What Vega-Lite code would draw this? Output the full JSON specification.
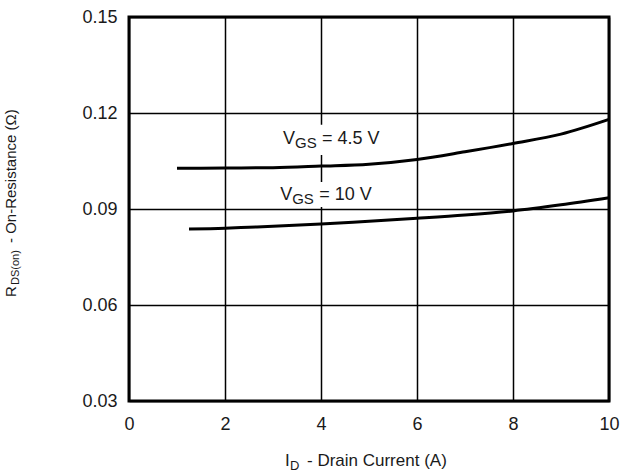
{
  "$schema": "https://vega.github.io/schema/vega-lite/v6.json",
  "width": 480,
  "height": 384,
  "autosize": {"type": "none"},
  "padding": {"left": 129, "top": 17, "right": 14, "bottom": 75},
  "background": "white",
  "config": {
    "font": "Liberation Sans",
    "view": {"stroke": "black", "strokeWidth": 3},
    "axis": {"domain": false, "ticks": false, "grid": true, "gridColor": "#000", "gridWidth": 1.5, "gridOpacity": 1, "labelFont": "Liberation Sans", "labelFontSize": 18, "labelColor": "#1a1a1a", "labelFlush": false, "labelOverlap": false, "title": null}
  },
  "datasets": {
    "curves": [
      {"id": 1.0, "r": 0.1027, "s": "4.5"},
      {"id": 2, "r": 0.1028, "s": "4.5"},
      {"id": 3, "r": 0.1029, "s": "4.5"},
      {"id": 4, "r": 0.1034, "s": "4.5"},
      {"id": 5, "r": 0.1040, "s": "4.5"},
      {"id": 6, "r": 0.1055, "s": "4.5"},
      {"id": 7, "r": 0.1079, "s": "4.5"},
      {"id": 8, "r": 0.1105, "s": "4.5"},
      {"id": 9, "r": 0.1134, "s": "4.5"},
      {"id": 10, "r": 0.1180, "s": "4.5"},
      {"id": 1.25, "r": 0.08375, "s": "10"},
      {"id": 2, "r": 0.0840, "s": "10"},
      {"id": 2.5, "r": 0.0843, "s": "10"},
      {"id": 3, "r": 0.0846, "s": "10"},
      {"id": 4, "r": 0.0853, "s": "10"},
      {"id": 5, "r": 0.0862, "s": "10"},
      {"id": 6, "r": 0.0871, "s": "10"},
      {"id": 7, "r": 0.0881, "s": "10"},
      {"id": 8, "r": 0.0894, "s": "10"},
      {"id": 9, "r": 0.0913, "s": "10"},
      {"id": 10, "r": 0.0935, "s": "10"}
    ],
    "boxes": [
      {"x": 3.12, "x2": 5.35, "y": 0.1069, "y2": 0.1163},
      {"x": 3.05, "x2": 5.25, "y": 0.0906, "y2": 0.0984}
    ],
    "labels": [
      {"x": 3.21, "y": 0.1120, "main": "V", "sub": "GS", "rest": "= 4.5 V"},
      {"x": 3.15, "y": 0.0945, "main": "V", "sub": "GS", "rest": "= 10 V"}
    ],
    "xtitle": [{"x": 3.25, "y": 0.01125, "main": "I", "sub": "D", "rest": "- Drain Current (A)"}],
    "ytitle": [{"x": -2.46, "y": 0.0625, "main": "R", "sub": "DS(on)", "rest": "- On-Resistance (Ω)"}]
  },
  "encoding": {
    "x": {"field": "x", "type": "quantitative", "scale": {"domain": [0, 10], "nice": false, "zero": false}, "axis": {"values": [0, 2, 4, 6, 8, 10], "labelPadding": 14}},
    "y": {"field": "y", "type": "quantitative", "scale": {"domain": [0.03, 0.15], "nice": false, "zero": false}, "axis": {"values": [0.03, 0.06, 0.09, 0.12, 0.15], "format": ".2f", "labelPadding": 12}}
  },
  "layer": [
    {
      "data": {"name": "boxes"},
      "mark": {"type": "rect", "fill": "white", "stroke": null},
      "encoding": {"x2": {"field": "x2"}, "y2": {"field": "y2"}}
    },
    {
      "data": {"name": "curves"},
      "mark": {"type": "line", "color": "black", "strokeWidth": 3, "interpolate": "monotone"},
      "encoding": {
        "x": {"field": "id", "type": "quantitative"},
        "y": {"field": "r", "type": "quantitative"},
        "detail": {"field": "s"}
      }
    },
    {
      "data": {"name": "labels"},
      "mark": {"type": "text", "align": "left", "baseline": "middle", "fontSize": 18, "color": "#1a1a1a"},
      "encoding": {"text": {"field": "main"}}
    },
    {
      "data": {"name": "labels"},
      "mark": {"type": "text", "align": "left", "baseline": "middle", "fontSize": 15, "dx": 12, "dy": 4, "color": "#1a1a1a"},
      "encoding": {"text": {"field": "sub"}}
    },
    {
      "data": {"name": "labels"},
      "mark": {"type": "text", "align": "left", "baseline": "middle", "fontSize": 18, "dx": 39, "color": "#1a1a1a"},
      "encoding": {"text": {"field": "rest"}}
    },
    {
      "data": {"name": "xtitle"},
      "mark": {"type": "text", "align": "left", "baseline": "middle", "fontSize": 17, "color": "#1a1a1a"},
      "encoding": {"text": {"field": "main"}}
    },
    {
      "data": {"name": "xtitle"},
      "mark": {"type": "text", "align": "left", "baseline": "middle", "fontSize": 13, "dx": 5, "dy": 5, "color": "#1a1a1a"},
      "encoding": {"text": {"field": "sub"}}
    },
    {
      "data": {"name": "xtitle"},
      "mark": {"type": "text", "align": "left", "baseline": "middle", "fontSize": 17, "dx": 22, "color": "#1a1a1a"},
      "encoding": {"text": {"field": "rest"}}
    },
    {
      "data": {"name": "ytitle"},
      "mark": {"type": "text", "align": "left", "baseline": "middle", "angle": 270, "fontSize": 15, "color": "#1a1a1a"},
      "encoding": {"text": {"field": "main"}}
    },
    {
      "data": {"name": "ytitle"},
      "mark": {"type": "text", "align": "left", "baseline": "middle", "angle": 270, "fontSize": 11, "dx": 12, "dy": 5, "color": "#1a1a1a"},
      "encoding": {"text": {"field": "sub"}}
    },
    {
      "data": {"name": "ytitle"},
      "mark": {"type": "text", "align": "left", "baseline": "middle", "angle": 270, "fontSize": 15, "dx": 54, "color": "#1a1a1a"},
      "encoding": {"text": {"field": "rest"}}
    }
  ]
}
